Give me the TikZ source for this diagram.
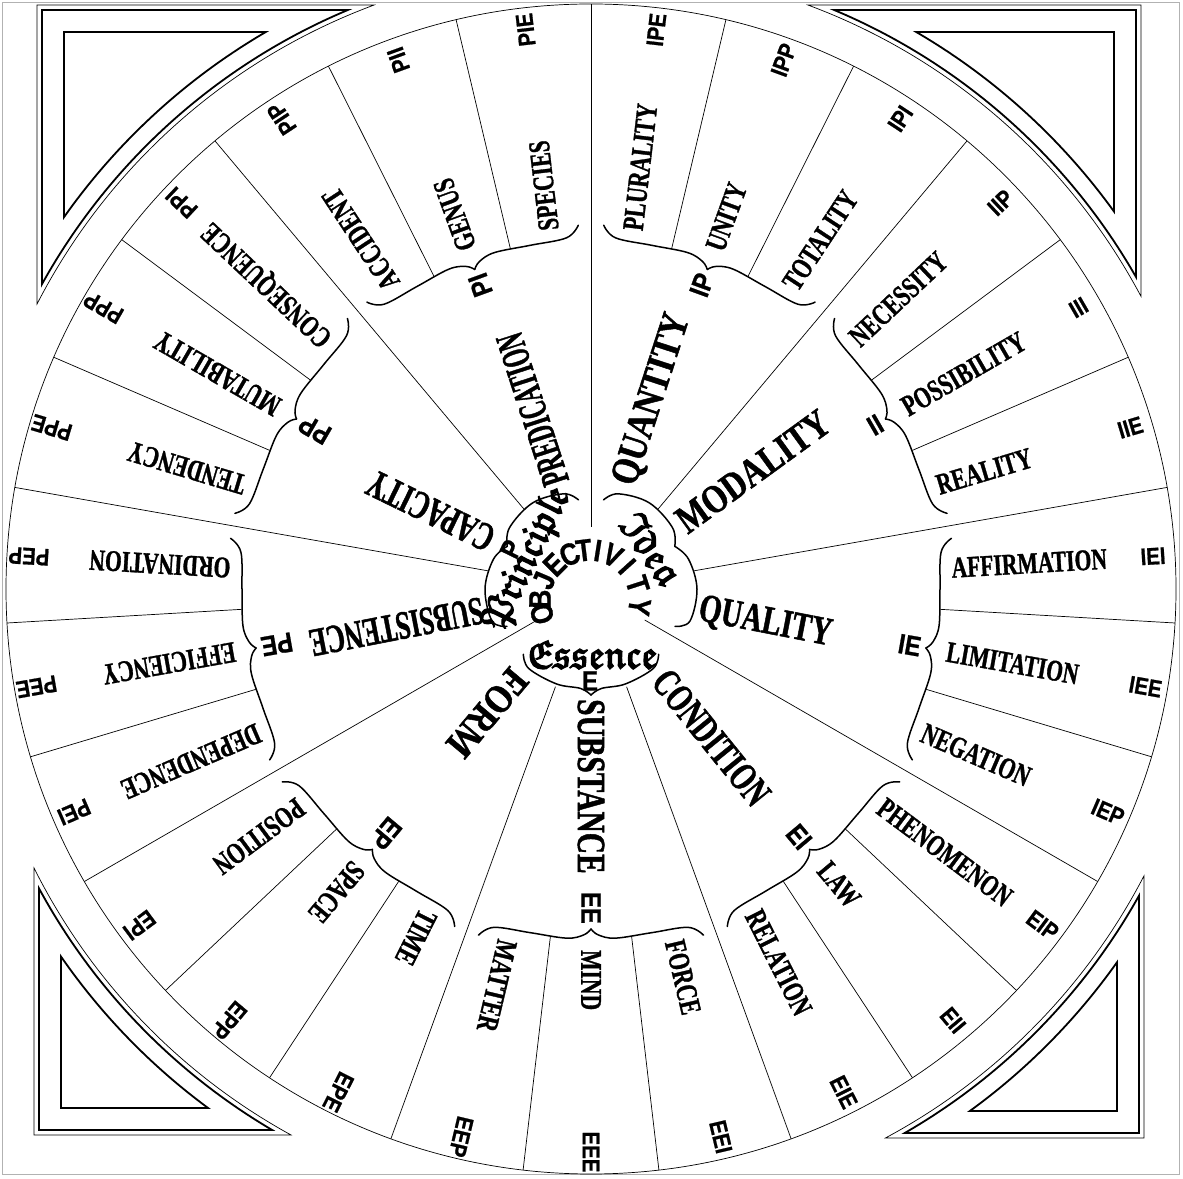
\documentclass[tikz,border=0pt]{standalone}
\usepackage{fontspec}
\setmainfont{Liberation Serif}
\newfontfamily\maincatfont{Liberation Serif}[FakeStretch=0.8, FakeBold=1.2]
\newfontfamily\subcatfont{Liberation Serif}[FakeStretch=0.72, FakeBold=1]
\newfontfamily\codefont{Liberation Sans}[FakeStretch=0.85, FakeBold=0.8]
\newfontfamily\frakfont{latinmodern-math.otf}[FakeBold=3]

% one outline of a corner piece: frame corner (#1,#2) relative to the centre,
% signs #3,#4 of that corner, arc radius #5, style #6
\newcommand{\cornerline}[6]{%
  \pgfmathsetmacro\ca{atan2(#4*sqrt((#5/100)^2-(#1/100)^2),#1/100)}%
  \pgfmathsetmacro\cb{atan2(#2/100,#3*sqrt((#5/100)^2-(#2/100)^2))}%
  \draw[#6] (#1,#2) -- (\ca:#5) arc[start angle=\ca, end angle=\cb, radius=#5] -- cycle;}
\newcommand{\cornerpiece}[4]{%
  \cornerline{#1}{#2}{#3}{#4}{623}{framethin}%
  \pgfmathsetmacro\cxa{#1-(#3)*5}\pgfmathsetmacro\cya{#2-(#4)*5}%
  \cornerline{\cxa}{\cya}{#3}{#4}{628}{framethick}%
  \pgfmathsetmacro\cxb{#1-(#3)*27}\pgfmathsetmacro\cyb{#2-(#4)*27}%
  \cornerline{\cxb}{\cyb}{#3}{#4}{645}{framethick}}

\begin{document}
\begin{tikzpicture}[x=1pt, y=1pt,
    sector/.style={line width=0.7pt},
    brace/.style={line width=1.5pt, line cap=round},
    framethin/.style={line width=0.7pt},
    framethick/.style={line width=1.8pt},
    pageedge/.style={gray!60, line width=0.5pt},
    rimcode/.style={font=\codefont\bfseries\fontsize{24}{24}\selectfont, inner sep=0pt},
    nibcode/.style={font=\codefont\bfseries\fontsize{28}{28}\selectfont, inner sep=0pt},
    objletter/.style={font=\codefont\bfseries\fontsize{31}{31}\selectfont, inner sep=0pt},
    maincat/.style={font=\maincatfont\bfseries\fontsize{40}{40}\selectfont, inner sep=0pt, anchor=west},
    subcat/.style={font=\subcatfont\bfseries\fontsize{30}{30}\selectfont, inner sep=0pt, anchor=west},
    gothic/.style={font=\frakfont\fontsize{40}{40}\selectfont, inner sep=0pt}]
  \useasboundingbox (0,0) rectangle (1183,1178);
  % edge of the page
  \draw[pageedge] (2,4) rectangle (1179,1176);

  \begin{scope}[shift={(591,589)}]
    % corner pieces
    \cornerpiece{-554}{584}{-1}{1}
    \cornerpiece{550}{584}{1}{1}
    \cornerpiece{-557}{-546}{-1}{-1}
    \cornerpiece{553}{-549}{1}{-1}

    % rim
    \draw[sector] (0,0) circle (585);

    % dividing lines: 3 main, 6 second, 18 third order
    \foreach \k in {0,...,26}{
      \pgfmathsetmacro\ang{90-\k*40/3}
      \pgfmathtruncatemacro\ki{mod(\k,9)}
      \pgfmathtruncatemacro\kii{mod(\k,3)}
      \ifnum\ki=0 \def\rin{62}\else\ifnum\kii=0 \def\rin{104}\else\def\rin{350}\fi\fi
      \draw[sector] (\ang:\rin) -- (\ang:585);
    }

    % codes along the rim
    \foreach \code [count=\j from 0] in {IPE,IPP,IPI,IIP,III,IIE,IEI,IEE,IEP,EIP,EII,EIE,EEI,EEE,EEP,EPE,EPP,EPI,PEI,PEE,PEP,PPE,PPP,PPI,PIP,PII,PIE}{
      \pgfmathsetmacro\ang{90-(\j+0.5)*40/3}
      \node[rimcode, rotate=\ang] (rim-\code) at (\ang:563) {\code};
    }

    % third order names
    \foreach \name [count=\j from 0] in {PLURALITY,UNITY,TOTALITY,NECESSITY,POSSIBILITY,REALITY,AFFIRMATION,LIMITATION,NEGATION,PHENOMENON,LAW,RELATION,FORCE,MIND,MATTER,TIME,SPACE,POSITION,DEPENDENCE,EFFICIENCY,ORDINATION,TENDENCY,MUTABILITY,CONSEQUENCE,ACCIDENT,GENUS,SPECIES}{
      \pgfmathsetmacro\ang{90-(\j+0.5)*40/3}
      \node[subcat, rotate=\ang] (sub\j) at (\ang:361) {\name};
    }

    % outer braces with their codes
    \foreach \ang/\code in {70/IP,30/II,-10/IE,-50/EI,-90/EE,-130/EP,-170/PE,150/PP,110/PI}{
      \draw[brace] plot[smooth, tension=0.6] coordinates {({\ang+18}:364) ({\ang+16}:352) ({\ang+10}:349) ({\ang+4}:350) ({\ang+1.2}:346) (\ang:340)};
      \draw[brace] plot[smooth, tension=0.6] coordinates {({\ang-18}:364) ({\ang-16}:352) ({\ang-10}:349) ({\ang-4}:350) ({\ang-1.2}:346) (\ang:340)};
      \node[nibcode, rotate=\ang, anchor=east] (code\code) at (\ang:335) {\code};
    }

    % second order names
    \foreach \ang/\name/\sc in {72/QUANTITY/1.03, 36/MODALITY/1.0, -11/QUALITY/0.9, -51/CONDITION/0.86, -90/SUBSTANCE/0.92, -130/FORM/1.05, -169/SUBSISTENCE/0.8, 154/CAPACITY/0.82, 108/PREDICATION/0.7}{
      \node[maincat, rotate=\ang, xscale=\sc] (main-\name) at (\ang:110) {\name};
    }

    % central braces
    \draw[brace] plot[smooth, tension=0.6] coordinates {(204:92) (198:104) (180:106) (163:102) (153:94)};
    \draw[brace] plot[smooth, tension=0.6] coordinates {(98:90) (106:99) (124:104) (143:102) (153:94)};
    \draw[brace] plot[smooth, tension=0.6] coordinates {(82:90) (74:99) (56:104) (37:102) (27:94)};
    \draw[brace] plot[smooth, tension=0.6] coordinates {(-24:92) (-18:104) (0:106) (17:102) (27:94)};
    \draw[brace] plot[smooth, tension=0.6] coordinates {(-136:94) (-128:101) (-110:101) (-96:100) (-90:106)};
    \draw[brace] plot[smooth, tension=0.6] coordinates {(-44:94) (-52:101) (-70:101) (-84:100) (-90:106)};

    % centre
    \begin{scope}[shift={(-1,-11)}]
      \foreach \ang/\ch in {196/O,179/B,157/J,135/E,114/C,97/T,81/I,63/V,42/I,18/T,-8/Y}
        \node[objletter, rotate=\ang-90] (obj\ang) at (\ang:50) {\ch};
    \end{scope}
    \node[gothic, rotate=64] (principle) at (-63,30) {𝔓𝔯𝔦𝔫𝔠𝔦𝔭𝔩𝔢};
    \node[gothic, rotate=-55] (idea) at (60,40) {ℑ𝔡𝔢𝔞};
    \node[gothic] (essence) at (1,-66) {𝔈𝔰𝔰𝔢𝔫𝔠𝔢};
    \node[nibcode, rotate=64] (codeP) at (-80,40) {P};
    \node[nibcode] (codeE) at (-1,-92) {E};
  \end{scope}
\end{tikzpicture}
\end{document}
